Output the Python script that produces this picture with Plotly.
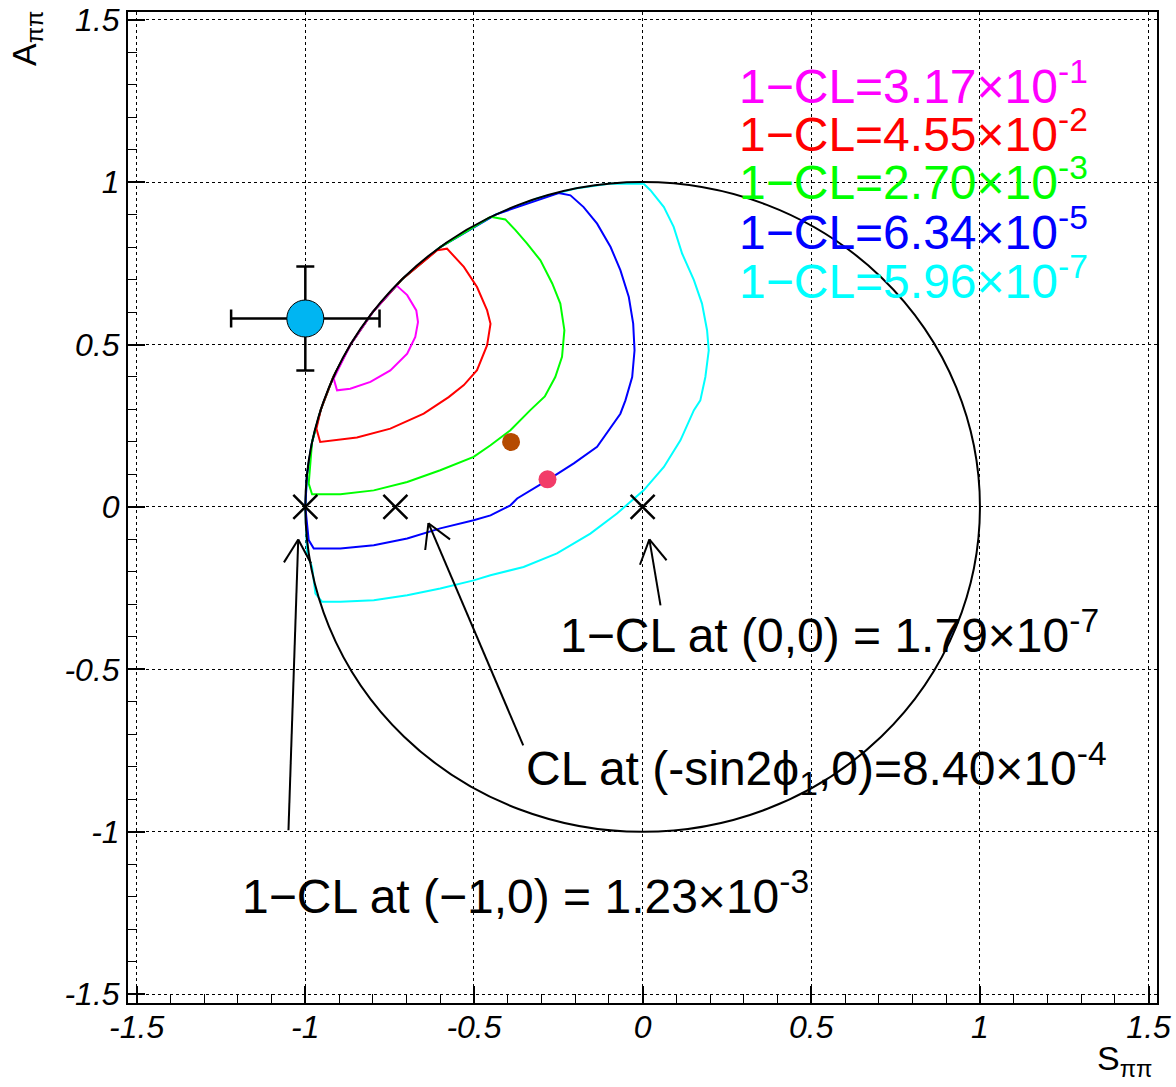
import math
import plotly.graph_objects as go

# ---------------- data ----------------
TICK_VALS = [-1.5, -1, -0.5, 0, 0.5, 1, 1.5]
TICK_TEXT = ["-1.5", "-1", "-0.5", "0", "0.5", "1", "1.5"]

CL_LABELS = ["1\u2212CL=3.17\u00d710<sup>-1</sup>",
             "1\u2212CL=4.55\u00d710<sup>-2</sup>",
             "1\u2212CL=2.70\u00d710<sup>-3</sup>",
             "1\u2212CL=6.34\u00d710<sup>-5</sup>",
             "1\u2212CL=5.96\u00d710<sup>-7</sup>"]
CL_COLORS = ["#FF00FF", "#FF0000", "#00FF00", "#0000FF", "#00FFFF"]

MAG_S = [-0.730, -0.698, -0.671, -0.666, -0.674, -0.698, -0.748, -0.807, -0.867, -0.906, -0.916, -0.866, -0.800, -0.730]
MAG_A = [0.682, 0.652, 0.605, 0.569, 0.523, 0.472, 0.420, 0.385, 0.364, 0.359, 0.395, 0.500, 0.600, 0.682]

RED_S = [-0.609, -0.580, -0.530, -0.491, -0.461, -0.451, -0.461, -0.491, -0.530, -0.575, -0.649, -0.748, -0.847, -0.956, -0.967, -0.954, -0.917, -0.866, -0.800, -0.714, -0.609]
RED_A = [0.790, 0.795, 0.739, 0.677, 0.605, 0.564, 0.498, 0.421, 0.375, 0.338, 0.287, 0.241, 0.214, 0.200, 0.241, 0.300, 0.400, 0.500, 0.600, 0.700, 0.790]

GREEN_S = [-0.451, -0.407, -0.377, -0.343, -0.303, -0.268, -0.244, -0.232, -0.239, -0.259, -0.290, -0.333, -0.392, -0.451, -0.501, -0.600, -0.698, -0.797, -0.896, -0.980, -0.990, -0.980, -0.954, -0.917, -0.866, -0.800, -0.714, -0.600, -0.451]
GREEN_A = [0.893, 0.885, 0.852, 0.811, 0.759, 0.688, 0.626, 0.544, 0.462, 0.400, 0.340, 0.298, 0.236, 0.190, 0.154, 0.113, 0.077, 0.051, 0.039, 0.039, 0.072, 0.200, 0.300, 0.400, 0.500, 0.600, 0.700, 0.800, 0.893]

BLUE_S = [-0.249, -0.214, -0.175, -0.135, -0.095, -0.066, -0.041, -0.028, -0.024, -0.031, -0.051, -0.066, -0.135, -0.204, -0.283, -0.372, -0.392, -0.451, -0.501, -0.600, -0.698, -0.797, -0.896, -0.975, -0.990, -1.000, -0.995, -0.980, -0.954, -0.917, -0.866, -0.800, -0.714, -0.600, -0.436, -0.249]
BLUE_A = [0.966, 0.959, 0.923, 0.872, 0.800, 0.729, 0.646, 0.564, 0.482, 0.400, 0.328, 0.287, 0.185, 0.134, 0.082, 0.026, 0.005, -0.026, -0.041, -0.066, -0.097, -0.118, -0.128, -0.128, -0.102, 0.000, 0.100, 0.200, 0.300, 0.400, 0.500, 0.600, 0.700, 0.800, 0.900, 0.966]

CYAN_S = [0.003, 0.023, 0.063, 0.092, 0.117, 0.152, 0.176, 0.191, 0.196, 0.186, 0.171, 0.152, 0.112, 0.063, 0.003, -0.076, -0.155, -0.254, -0.353, -0.451, -0.501, -0.600, -0.698, -0.797, -0.896, -0.950, -0.970, -0.980, -0.995, -1.000, -0.995, -0.980, -0.954, -0.917, -0.866, -0.800, -0.714, -0.600, -0.436, -0.312, -0.199, -0.100, 0.003]
CYAN_A = [0.995, 0.975, 0.923, 0.862, 0.780, 0.698, 0.626, 0.544, 0.482, 0.400, 0.328, 0.298, 0.205, 0.123, 0.051, -0.020, -0.082, -0.143, -0.185, -0.210, -0.226, -0.251, -0.272, -0.287, -0.292, -0.292, -0.267, -0.185, -0.143, 0.000, 0.100, 0.200, 0.300, 0.400, 0.500, 0.600, 0.700, 0.800, 0.900, 0.950, 0.980, 0.995, 0.995]

# measurement with errors
MEAS_S = [-1.00]
MEAS_A = [0.58]
MEAS_ES = [0.22]
MEAS_EA = [0.16]

# other points
BROWN_S, BROWN_A = [-0.39], [0.20]
PINK_S, PINK_A = [-0.282], [0.085]
CROSS_S = [-1.0, -0.733, 0.0]
CROSS_A = [0.0, 0.0, 0.0]

CIRCLE_R = 1.0

# arrows: (tail_s, tail_a, tip_s, tip_a)
ARROWS = [(-1.050, -0.995, -1.021, -0.100),
          (-0.354, -0.734, -0.635, -0.050),
          (0.053, -0.303, 0.020, -0.100)]

TEXTS = ["1\u2212CL at (0,0) = 1.79\u00d710<sup>-7</sup>",
         "CL at (-sin2\u03d5<sub>1</sub>,0)=8.40\u00d710<sup>-4</sup>",
         "1\u2212CL at (\u22121,0) = 1.23\u00d710<sup>-3</sup>"]
TEXT_S = [-0.250, -0.351, -1.193]
TEXT_A = [-0.386, -0.806, -1.189]

LEG_S = 0.281
LEG_A = [1.305, 1.157, 1.009, 0.855, 0.705]

# ---------------- layout geometry ----------------
W, H = 1176, 1087
ML, MR, MT, MB = 128, 19, 12, 84
XR = [-1.5257, 1.5249]
YR = [-1.5268, 1.5234]
KX = (W - ML - MR) / (XR[1] - XR[0])
KY = (H - MT - MB) / (YR[1] - YR[0])
FONT = "Liberation Sans, Arial, Helvetica, sans-serif"

fig = go.Figure()

for s, a, c in [(CYAN_S, CYAN_A, CL_COLORS[4]), (BLUE_S, BLUE_A, CL_COLORS[3]),
                (GREEN_S, GREEN_A, CL_COLORS[2]), (RED_S, RED_A, CL_COLORS[1]),
                (MAG_S, MAG_A, CL_COLORS[0])]:
    fig.add_trace(go.Scatter(x=s, y=a, mode="lines", line=dict(color=c, width=2),
                             showlegend=False, hoverinfo="skip"))

fig.add_trace(go.Scatter(
    x=MEAS_S, y=MEAS_A, mode="markers",
    marker=dict(size=37, color="#00B5F2", line=dict(color="black", width=1)),
    error_x=dict(type="data", array=MEAS_ES, color="black", thickness=2.5, width=9),
    error_y=dict(type="data", array=MEAS_EA, color="black", thickness=2.5, width=9),
    showlegend=False))

fig.add_trace(go.Scatter(x=BROWN_S, y=BROWN_A, mode="markers",
                         marker=dict(size=18, color="#B54A00"), showlegend=False))
fig.add_trace(go.Scatter(x=PINK_S, y=PINK_A, mode="markers",
                         marker=dict(size=18, color="#F23C68"), showlegend=False))
fig.add_trace(go.Scatter(x=CROSS_S, y=CROSS_A, mode="markers",
                         marker=dict(symbol="x-thin", size=24,
                                     line=dict(color="black", width=2.5)),
                         showlegend=False))

shapes = [dict(type="circle", xref="x", yref="y", x0=-CIRCLE_R, y0=-CIRCLE_R,
               x1=CIRCLE_R, y1=CIRCLE_R, line=dict(color="black", width=2), layer="above")]

HEAD = 27
ANG = math.radians(30)
for ts, ta, hs, ha in ARROWS:
    shapes.append(dict(type="line", xref="x", yref="y", x0=ts, y0=ta, x1=hs, y1=ha,
                       line=dict(color="black", width=2)))
    dx = (ts - hs) * KX
    dy = (ta - ha) * KY
    L = math.hypot(dx, dy)
    ux, uy = dx / L, dy / L
    for sgn in (1, -1):
        c, sn = math.cos(sgn * ANG), math.sin(sgn * ANG)
        rx, ry = ux * c - uy * sn, ux * sn + uy * c
        shapes.append(dict(type="line", xref="x", yref="y", x0=hs, y0=ha,
                           x1=hs + rx * HEAD / KX, y1=ha + ry * HEAD / KY,
                           line=dict(color="black", width=2)))

annotations = []
for t, c, y in zip(CL_LABELS, CL_COLORS, LEG_A):
    annotations.append(dict(x=LEG_S, y=y, xref="x", yref="y", text=t, showarrow=False,
                            xanchor="left", yanchor="middle",
                            font=dict(family=FONT, size=48, color=c)))
for t, s, a in zip(TEXTS, TEXT_S, TEXT_A):
    annotations.append(dict(x=s, y=a, xref="x", yref="y", text=t, showarrow=False,
                            xanchor="left", yanchor="middle",
                            font=dict(family=FONT, size=48, color="black")))

PW, PH = W - ML - MR, H - MT - MB
annotations.append(dict(x=(26 - ML) / PW, y=(H - MB - 38) / PH,
                        xref="paper", yref="paper", text="A<sub>\u03c0\u03c0</sub>",
                        showarrow=False, textangle=-90, xanchor="center", yanchor="middle",
                        font=dict(family=FONT, size=34, color="black")))
annotations.append(dict(x=(1125 - ML) / PW, y=(H - MB - 1060) / PH,
                        xref="paper", yref="paper", text="S<sub>\u03c0\u03c0</sub>",
                        showarrow=False, xanchor="center", yanchor="middle",
                        font=dict(family=FONT, size=34, color="black")))

axis_common = dict(
    tickvals=TICK_VALS, ticktext=TICK_TEXT,
    ticks="inside", ticklen=17, tickwidth=1.5, tickcolor="black",
    minor=dict(dtick=0.1, tick0=0, ticks="inside", ticklen=9, tickwidth=1.2,
               tickcolor="black", showgrid=False),
    showgrid=True, gridcolor="black", gridwidth=1, griddash="dot",
    showline=True, linecolor="black", linewidth=2, mirror=True,
    zeroline=False, automargin=False,
    tickfont=dict(family=FONT, size=32, color="black", style="italic"),
)

fig.update_layout(
    width=W, height=H,
    margin=dict(l=ML, r=MR, t=MT, b=MB, pad=0, autoexpand=False),
    paper_bgcolor="white", plot_bgcolor="white",
    xaxis=dict(range=XR, ticklabelstandoff=-5, **axis_common),
    yaxis=dict(range=YR, ticklabelstandoff=0, **axis_common),
    shapes=shapes, annotations=annotations,
    showlegend=False,
)

PAGE_JS = (
    "document.documentElement.style.overflow='hidden';"
    "document.body.style.margin='0';"
    "document.body.style.overflow='hidden';"
    "var d=document.getElementById('{plot_id}');"
    "d.style.overflow='hidden';"
    "d.parentElement.style.overflow='hidden';"
)

fig.write_html("out.html", config={"displayModeBar": False}, post_script=PAGE_JS)
